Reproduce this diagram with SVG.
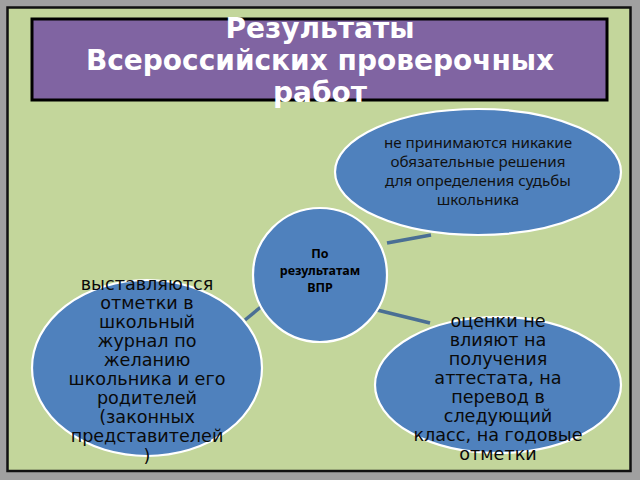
<svg xmlns="http://www.w3.org/2000/svg" width="640" height="480" viewBox="0 0 640 480">
<style>
.node{fill:#4f81bd;stroke:#ffffff;stroke-width:2.2}
.conn{stroke:#4a6f94;stroke-width:3.5;fill:none}
.title{font-family:"DejaVu Sans",sans-serif;font-weight:bold;font-size:28px;fill:#ffffff;text-anchor:middle}
.cal{font-family:"Noto Sans","Open Sans",sans-serif;font-size:15.2px;fill:#111111;text-anchor:middle}
.calb{font-family:"Noto Sans","Open Sans",sans-serif;font-size:12.5px;font-weight:bold;fill:#000000;text-anchor:middle}
.dv{font-family:"DejaVu Sans",sans-serif;font-size:17.6px;fill:#0a0a0a;text-anchor:middle}
</style>
<rect x="0" y="0" width="640" height="480" fill="#a0a0a0"/>
<rect x="7.5" y="7.5" width="623" height="463.5" fill="#c3d69b" stroke="#111111" stroke-width="2.5"/>
<g id="title">
<rect x="32" y="19" width="575" height="81" fill="#8064a2" stroke="#000000" stroke-width="3"/>
<text class="title" x="320" y="38">Результаты</text>
<text class="title" x="320" y="70">Всероссийских проверочных</text>
<text class="title" x="320" y="102">работ</text>
</g>
<g id="connectors">
<line class="conn" x1="387" y1="243" x2="431" y2="235"/>
<line class="conn" x1="377" y1="310" x2="430" y2="323"/>
<line class="conn" x1="245" y1="320" x2="262" y2="306"/>
</g>
<g id="node-top">
<ellipse class="node" cx="478" cy="172" rx="143" ry="63"/>
<text class="cal" x="478" y="147.5">не принимаются никакие</text>
<text class="cal" x="478" y="166.5">обязательные решения</text>
<text class="cal" x="478" y="185.5">для определения судьбы</text>
<text class="cal" x="478" y="204.5">школьника</text>
</g>
<g id="node-center">
<circle class="node" cx="320" cy="275" r="67"/>
<text class="calb" x="320" y="258">По</text>
<text class="calb" x="320" y="275">результатам</text>
<text class="calb" x="320" y="292">ВПР</text>
</g>
<g id="node-left">
<ellipse class="node" cx="147" cy="368" rx="115" ry="88"/>
<text class="dv" x="147" y="290">выставляются</text>
<text class="dv" x="147" y="309">отметки в</text>
<text class="dv" x="147" y="328">школьный</text>
<text class="dv" x="147" y="347">журнал по</text>
<text class="dv" x="147" y="366">желанию</text>
<text class="dv" x="147" y="385">школьника и его</text>
<text class="dv" x="147" y="404">родителей</text>
<text class="dv" x="147" y="423">(законных</text>
<text class="dv" x="147" y="442">представителей</text>
<text class="dv" x="147" y="462">)</text>
</g>
<g id="node-right">
<ellipse class="node" cx="498" cy="385" rx="123" ry="68"/>
<text class="dv" x="498" y="327">оценки не</text>
<text class="dv" x="498" y="346">влияют на</text>
<text class="dv" x="498" y="365">получения</text>
<text class="dv" x="498" y="384">аттестата, на</text>
<text class="dv" x="498" y="403">перевод в</text>
<text class="dv" x="498" y="422">следующий</text>
<text class="dv" x="498" y="441">класс, на годовые</text>
<text class="dv" x="498" y="460">отметки</text>
</g>
</svg>
